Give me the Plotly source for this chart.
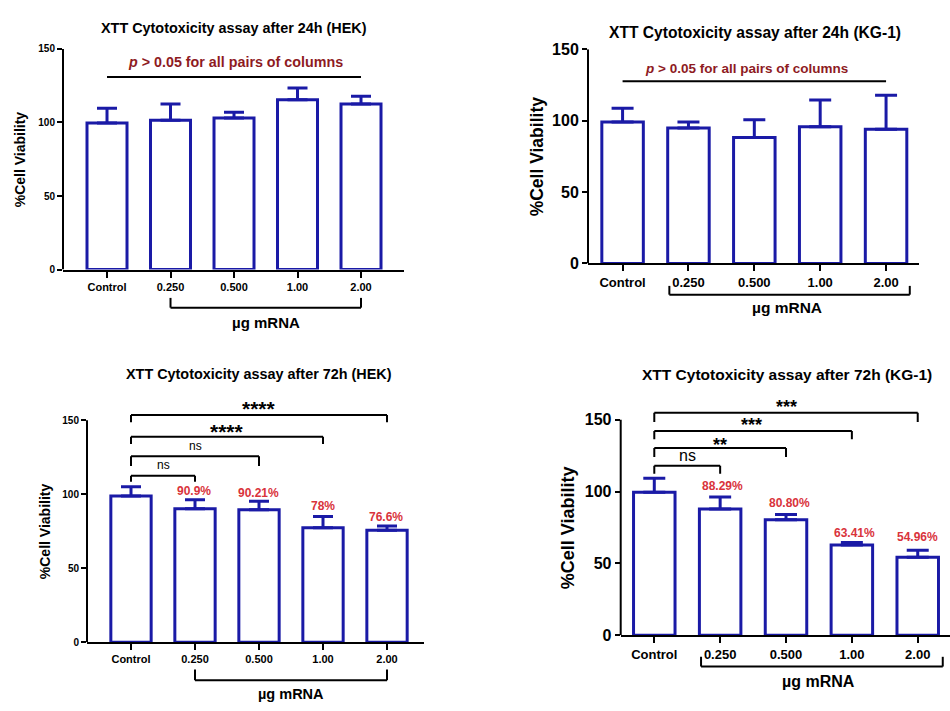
import plotly.graph_objects as go

# ---------------- data ----------------
categories = ["Control", "0.250", "0.500", "1.00", "2.00"]
y_ticks = [0, 50, 100, 150]

hek24_mean = [99.7, 101.5, 103.0, 115.5, 112.6]
hek24_sd = [10.0, 11.0, 4.0, 8.0, 5.3]

kg24_mean = [99.1, 94.8, 88.2, 95.7, 93.9]
kg24_sd = [9.6, 4.3, 12.5, 18.7, 23.9]

hek72_mean = [98.7, 90.2, 89.5, 77.4, 75.7]
hek72_sd = [6.4, 6.1, 5.7, 7.5, 2.8]
hek72_pct = ["90.9%", "90.21%", "78%", "76.6%"]
hek72_sig = ["ns", "ns", "****", "****"]

kg72_mean = [99.6, 87.8, 80.4, 62.9, 54.3]
kg72_sd = [9.7, 8.4, 3.6, 1.6, 4.8]
kg72_pct = ["88.29%", "80.80%", "63.41%", "54.96%"]
kg72_sig = ["ns", "**", "***", "***"]

titles = [
    "XTT Cytotoxicity assay after 24h (HEK)",
    "XTT Cytotoxicity assay after 24h (KG-1)",
    "XTT Cytotoxicity assay after 72h (HEK)",
    "XTT Cytotoxicity assay after 72h (KG-1)",
]
ns_text = "<i>p</i> > 0.05 for all pairs of columns"

# ---------------- style / layout ----------------
W, H = 950, 711
BLUE = "#1a1aa6"
RED = "#d9333b"
DARKRED = "#8e1b1f"
FONT = "Liberation Sans, Arial, sans-serif"

panels = [
    dict(mean=hek24_mean, sd=hek24_sd, xpx=(63, 404), xr=(-0.693, 4.677), y0px=268.0, ppu=1.507, ytop=150,
         title_xy=(234, 20), tsize=14.4, ylab_xy=(20, 155), ylsize=14, ytsize=10, xtsize=11,
         mu_size=15, mu_off=53, br=(1, 4, 39, 29), cap=10),
    dict(mean=kg24_mean, sd=kg24_sd, xpx=(588, 919), xr=(-0.525, 4.5), y0px=261.7, ppu=1.463, ytop=150,
         title_xy=(755, 25), tsize=15.6, ylab_xy=(537, 152), ylsize=17.5, ytsize=16, xtsize=13,
         mu_size=15.5, mu_off=44, br=(0.71, 4.36, 32, 23), cap=11),
    dict(mean=hek72_mean, sd=hek72_sd, xpx=(87, 424), xr=(-0.6875, 4.578), y0px=649.7, ppu=1.516, ytop=168,
         title_xy=(259, 375), tsize=14.4, ylab_xy=(45, 536), ylsize=14, ytsize=10, xtsize=11,
         mu_size=14.5, mu_off=52, br=(1, 4, 39, 28), cap=10),
    dict(mean=kg72_mean, sd=kg72_sd, xpx=(620.7, 950), xr=(-0.51, 4.49), y0px=642.7, ppu=1.473, ytop=168,
         title_xy=(787, 375), tsize=15.5, ylab_xy=(568, 533), ylsize=18, ytsize=16, xtsize=13,
         mu_size=16, mu_off=46, br=(0.71, 4.38, 32, 22), cap=11),
]

fig = go.Figure()
shapes = []
annotations = []
layout = {}

for i, p in enumerate(panels):
    n = "" if i == 0 else str(i + 1)
    xa, ya = "x" + n, "y" + n
    xdom = [p["xpx"][0] / W, p["xpx"][1] / W]
    top_px = p["y0px"] - p["ytop"] * p["ppu"]
    ydom = [1 - p["y0px"] / H, 1 - top_px / H]
    dom_h = p["ytop"] * p["ppu"]

    fig.add_trace(go.Bar(
        x=categories, y=p["mean"], width=0.63, xaxis=xa, yaxis=ya, showlegend=False,
        marker=dict(color="white", line=dict(color=BLUE, width=3)),
        error_y=dict(type="data", array=p["sd"], arrayminus=[0] * len(p["sd"]), symmetric=False,
                     color=BLUE, thickness=3, width=p["cap"]),
        hoverinfo="skip",
    ))

    layout["xaxis" + n] = dict(
        domain=xdom, anchor=ya, type="category", categoryorder="array", categoryarray=categories,
        range=list(p["xr"]), showline=True, linecolor="black", linewidth=2,
        ticks="outside", ticklen=6, tickwidth=2, tickcolor="black",
        tickfont=dict(family=FONT, size=p["xtsize"], color="black", weight="bold"),
        showgrid=False, zeroline=False, fixedrange=True,
    )
    layout["yaxis" + n] = dict(
        domain=ydom, anchor=xa, range=[0, p["ytop"]], tickvals=y_ticks,
        showline=False, ticks="outside", ticklen=5, tickwidth=2, tickcolor="black",
        tickfont=dict(family=FONT, size=p["ytsize"], color="black", weight="bold"),
        showgrid=False, zeroline=False, fixedrange=True,
    )

    # y axis line from 0 to 150
    shapes.append(dict(type="line", xref=xa + " domain", yref=ya, x0=0, x1=0, y0=0, y1=150,
                       line=dict(color="black", width=2)))

    # bracket below x axis
    bx0, bx1, bh, bt = p["br"]
    yh, yt = -bh / dom_h, -bt / dom_h
    for (a0, a1, b0, b1) in [(bx0, bx1, yh, yh), (bx0, bx0, yh, yt), (bx1, bx1, yh, yt)]:
        shapes.append(dict(type="line", xref=xa, yref=ya + " domain", x0=a0, x1=a1, y0=b0, y1=b1,
                           line=dict(color="black", width=2)))
    annotations.append(dict(text="µg mRNA", xref=xa, yref=ya + " domain", x=2.5, y=0,
                            yshift=-p["mu_off"], showarrow=False, xanchor="center", yanchor="middle",
                            font=dict(family=FONT, size=p["mu_size"], color="black", weight="bold")))

    # titles and y labels
    tx, ty = p["title_xy"]
    annotations.append(dict(text=titles[i], xref="paper", yref="paper", x=tx / W, y=1 - ty / H,
                            showarrow=False, xanchor="center", yanchor="middle",
                            font=dict(family=FONT, size=p["tsize"], color="black", weight="bold")))
    lx, ly = p["ylab_xy"]
    annotations.append(dict(text="%Cell Viability", xref="paper", yref="paper", x=lx / W, y=1 - ly / H,
                            showarrow=False, textangle=-90, xanchor="center", yanchor="middle",
                            font=dict(family=FONT, size=p["ylsize"], color="black", weight="bold")))

# --- top panels: p > 0.05 line and text ---
for n, line_y, text_y, text_x, fs in [("", 131, 141, 2.03, 14.3), ("2", 127.6, 136.7, 1.88, 13.5)]:
    shapes.append(dict(type="line", xref="x" + n, yref="y" + n, x0=0, x1=4, y0=line_y, y1=line_y,
                       line=dict(color="black", width=2)))
    annotations.append(dict(text=ns_text, xref="x" + n, yref="y" + n, x=text_x, y=text_y, showarrow=False,
                            xanchor="center", yanchor="middle",
                            font=dict(family=FONT, size=fs, color=DARKRED, weight="bold")))

# --- bottom panels: comparison brackets, significance and percentages ---
bottom = [
    dict(n="3", sig=hek72_sig, pct=hek72_pct,
         lines=[(112.4, 108.4), (125.6, 119.0), (138.8, 134.0), (153.5, 148.7)],
         sig_y=[119.8, 132.6, 145.4, 160.3], sig_x=[0.5, 1.0, 1.5, 2.0],
         pct_xy=[(0.98, 102.0), (1.99, 101.0), (3.0, 91.7), (3.98, 84.9)],
         ns_size=12, star_size=21, pct_size=12),
    dict(n="4", sig=kg72_sig, pct=kg72_pct,
         lines=[(117.9, 112.3), (130.3, 124.0), (142.1, 136.4), (154.8, 148.4)],
         sig_y=[125.2, 135.4, 148.9, 161.4], sig_x=[0.5, 1.0, 1.48, 2.0],
         pct_xy=[(1.04, 104.1), (2.06, 92.3), (3.04, 71.5), (4.0, 68.6)],
         ns_size=16, star_size=18, pct_size=12),
]
for b in bottom:
    xa, ya = "x" + b["n"], "y" + b["n"]
    for k, (hy, ty) in enumerate(b["lines"]):
        target = k + 1
        for (a0, a1, c0, c1) in [(0, target, hy, hy), (0, 0, hy, ty), (target, target, hy, ty)]:
            shapes.append(dict(type="line", xref=xa, yref=ya, x0=a0, x1=a1, y0=c0, y1=c1,
                               line=dict(color="black", width=2)))
        s = b["sig"][k]
        is_star = s.startswith("*")
        annotations.append(dict(text=s, xref=xa, yref=ya, x=b["sig_x"][k], y=b["sig_y"][k],
                                yshift=-4 if is_star else 0, showarrow=False,
                                xanchor="center", yanchor="middle",
                                font=dict(family=FONT, size=b["star_size"] if is_star else b["ns_size"],
                                          color="black", weight="bold" if is_star else "normal")))
    for (px, py), t in zip(b["pct_xy"], b["pct"]):
        annotations.append(dict(text=t, xref=xa, yref=ya, x=px, y=py, showarrow=False,
                                xanchor="center", yanchor="middle",
                                font=dict(family=FONT, size=b["pct_size"], color=RED, weight="bold")))

fig.update_layout(
    width=W, height=H, margin=dict(l=0, r=0, t=0, b=0),
    paper_bgcolor="white", plot_bgcolor="white",
    shapes=shapes, annotations=annotations, showlegend=False,
    font=dict(family=FONT, color="black"),
    **layout,
)
fig.write_html(
    "out.html",
    config={"displayModeBar": False},
    post_script="document.body.style.margin='0';document.body.style.overflow='hidden';",
)
